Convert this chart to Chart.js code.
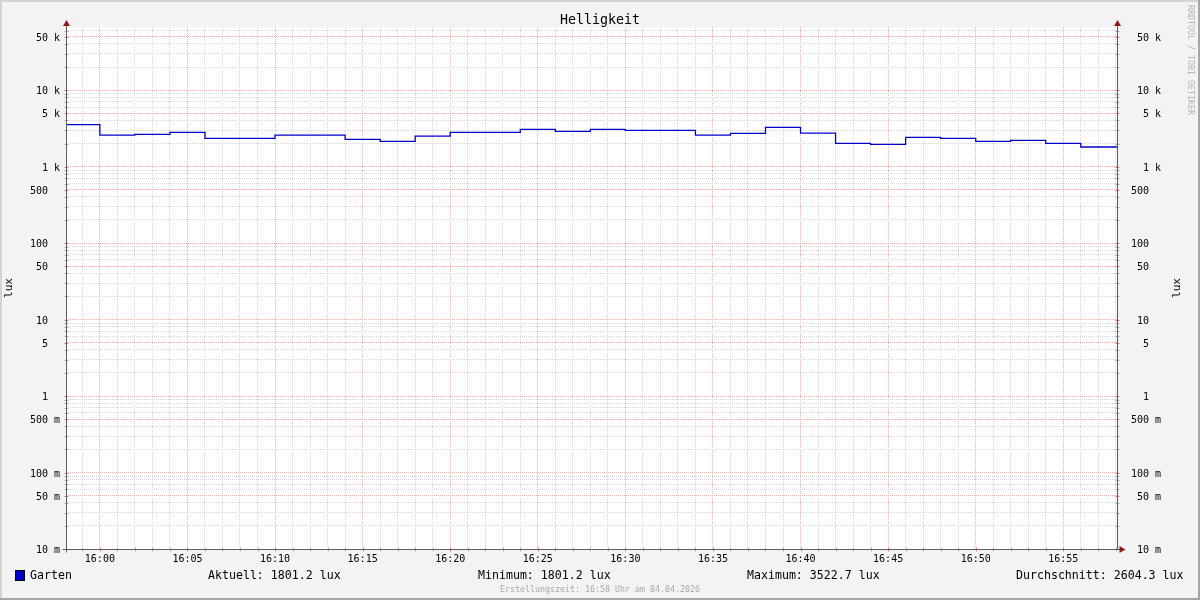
<!DOCTYPE html>
<html>
<head>
<meta charset="UTF-8" />
<script src="https://cdn.jsdelivr.net/npm/chart.js@4"></script>
<style>
  body { margin: 0; background: #f3f3f3; }
  #wrap { width: 1200px; height: 600px; position: relative; }
</style>
</head>
<body>
<div id="wrap"><canvas id="chart"></canvas></div>
<script>
// Zeitfenster der Grafik
const windowStart = '15:58:04';
const windowEnd = '16:58:04';

// Messwerte Garten (lux), jeweils gültig bis zum angegebenen Zeitpunkt
const stepEnds = [
  '16:00', '16:02', '16:04', '16:06', '16:08', '16:10', '16:12', '16:14', '16:16', '16:18',
  '16:20', '16:22', '16:24', '16:26', '16:28', '16:30', '16:32', '16:34', '16:36', '16:38',
  '16:40', '16:42', '16:44', '16:46', '16:48', '16:50', '16:52', '16:54', '16:56', '16:58:04',
];
const luxValues = [
  3522.7, 2581, 2636, 2800, 2337, 2337, 2581, 2581, 2268, 2136,
  2505, 2800, 2800, 3064, 2886, 3064, 2974, 2974, 2581, 2716,
  3253, 2741, 2011, 1951, 2409, 2337, 2136, 2201, 2011, 1801.2,
];

// Achsenbeschriftungen
const xTickLabels = ['16:00', '16:05', '16:10', '16:15', '16:20', '16:25', '16:30', '16:35', '16:40', '16:45', '16:50', '16:55'];
const yLabelValues = [0.01, 0.05, 0.1, 0.5, 1, 5, 10, 50, 100, 500, 1000, 5000, 10000, 50000];
const yLabelTexts = ['10 m', '50 m', '100 m', '500 m', '1  ', '5  ', '10  ', '50  ', '100  ', '500  ', '1 k', '5 k', '10 k', '50 k'];

// Legende
const legendName = 'Garten';
const legendItems = ['Aktuell: 1801.2 lux', 'Minimum: 1801.2 lux', 'Maximum: 3522.7 lux', 'Durchschnitt: 2604.3 lux'];
const legendX = [208, 478, 747, 1016];
const footerText = 'Erstellungszeit: 16:58 Uhr am 04.04.2026';

const yMin = 0.01;
const yMax = 66700;
const FONT = "'DejaVu Sans Mono', 'Liberation Mono', monospace";
const MINOR = '#d6d6d6';
const MAJOR = '#ebb0b0';

const toMin = (t) => {
  const [h, m, s] = t.split(':').map(Number);
  return (h - 16) * 60 + m + (s || 0) / 60;
};
const key = (v) => Number(v).toPrecision(3);
const yLabelMap = {};
yLabelValues.forEach((v, i) => { yLabelMap[key(v)] = yLabelTexts[i]; });
const xLabelMap = {};
xTickLabels.forEach(l => { xLabelMap[Math.round(toMin(l))] = l; });

function logTicks() {
  const out = [];
  for (let e = -2; e <= 4; e++) {
    for (let m = 1; m <= 9; m++) {
      const v = Number((m * Math.pow(10, e)).toPrecision(3));
      if (v >= yMin && v <= yMax) out.push({ value: v });
    }
  }
  return out;
}
function minuteTicks(scale) {
  const out = [];
  for (let m = Math.ceil(scale.min); m <= Math.floor(scale.max); m++) out.push({ value: m });
  return out;
}
const isMajorY = (v) => key(v) in yLabelMap;
const isMajorX = (v) => Math.round(v) % 5 === 0;

const points = [{ x: toMin(windowStart), y: luxValues[0] }]
  .concat(stepEnds.map((t, i) => ({ x: toMin(t), y: luxValues[i] })));

const rrdFrame = {
  id: 'rrdFrame',
  beforeDraw(chart) {
    const { ctx, chartArea: a } = chart;
    ctx.save();
    ctx.fillStyle = '#f3f3f3';
    ctx.fillRect(0, 0, 1200, 600);
    ctx.fillStyle = '#d4d4d4';
    ctx.fillRect(0, 0, 1200, 2);
    ctx.fillRect(0, 0, 2, 600);
    ctx.fillStyle = '#a6a6a6';
    ctx.fillRect(0, 598, 1200, 2);
    ctx.fillRect(1198, 0, 2, 600);
    ctx.fillStyle = '#ffffff';
    ctx.fillRect(a.left, a.top, a.right - a.left, a.bottom - a.top);
    ctx.restore();
  },
  afterDraw(chart) {
    const { ctx, chartArea: a, scales } = chart;
    const L = a.left + 0.5, R = a.right + 0.5, B = a.bottom + 0.5;
    ctx.save();

    // kleine Striche an den Achsen
    scales.y.ticks.forEach(t => {
      const py = Math.round(scales.y.getPixelForValue(t.value)) + 0.5;
      const major = isMajorY(t.value);
      ctx.strokeStyle = major ? '#d48080' : '#b0b0b0';
      ctx.lineWidth = 1;
      ctx.beginPath();
      ctx.moveTo(L - 2, py); ctx.lineTo(L + 2, py);
      ctx.moveTo(R - 2, py); ctx.lineTo(R + 2, py);
      ctx.stroke();
    });
    scales.x.ticks.forEach(t => {
      const px = Math.round(scales.x.getPixelForValue(t.value)) + 0.5;
      const major = isMajorX(t.value);
      ctx.strokeStyle = major ? '#d48080' : '#b0b0b0';
      ctx.beginPath();
      ctx.moveTo(px, B - 2); ctx.lineTo(px, B + 2);
      ctx.stroke();
    });

    // Beschriftung beider y-Achsen
    ctx.fillStyle = '#000';
    ctx.textBaseline = 'middle';
    ctx.textAlign = 'right';
    ctx.font = '10px ' + FONT;
    scales.y.ticks.forEach(t => {
      const txt = yLabelMap[key(t.value)];
      if (!txt) return;
      const py = scales.y.getPixelForValue(t.value) + 1.5;
      ctx.fillText(txt, a.left - 6, py);
      ctx.fillText(txt, 1161, py);
    });

    // Achsen
    ctx.strokeStyle = '#5c5c5c';
    ctx.lineWidth = 1;
    ctx.beginPath();
    ctx.moveTo(L, B + 3); ctx.lineTo(L, a.top - 3);
    ctx.moveTo(R, B); ctx.lineTo(R, a.top - 3);
    ctx.moveTo(L - 4, B); ctx.lineTo(R + 3, B);
    ctx.stroke();

    // Pfeile
    ctx.fillStyle = '#8b1a1a';
    [L, R].forEach(x => {
      ctx.beginPath();
      ctx.moveTo(x, a.top - 7); ctx.lineTo(x - 3.5, a.top - 1); ctx.lineTo(x + 3.5, a.top - 1);
      ctx.closePath(); ctx.fill();
    });
    ctx.beginPath();
    ctx.moveTo(R + 8, B); ctx.lineTo(R + 2, B - 3.5); ctx.lineTo(R + 2, B + 3.5);
    ctx.closePath(); ctx.fill();

    // Titel
    ctx.fillStyle = '#000';
    ctx.textAlign = 'center';
    ctx.font = '13.3px ' + FONT;
    ctx.fillText('Helligkeit', 600, 20.5);

    // Einheiten
    ctx.font = '11px ' + FONT;
    [9.5, 1177].forEach(x => {
      ctx.save();
      ctx.translate(x, (a.top + a.bottom) / 2);
      ctx.rotate(-Math.PI / 2);
      ctx.fillText('lux', 0, 0);
      ctx.restore();
    });

    // Wasserzeichen
    ctx.save();
    ctx.fillStyle = '#b4b4b4';
    ctx.font = '8.3px ' + FONT;
    ctx.translate(1190, 5);
    ctx.rotate(Math.PI / 2);
    ctx.textAlign = 'left';
    ctx.fillText('RRDTOOL / TOBI OETIKER', 0, 0);
    ctx.restore();

    // Legende
    ctx.fillStyle = '#0000cc';
    ctx.fillRect(15, 570, 9, 10);
    ctx.strokeStyle = '#000';
    ctx.strokeRect(15.5, 570.5, 9, 10);
    ctx.fillStyle = '#000';
    ctx.textAlign = 'left';
    ctx.font = '11.6px ' + FONT;
    ctx.fillText(legendName, 30, 575.5);
    legendItems.forEach((txt, i) => ctx.fillText(txt, legendX[i], 575.5));

    ctx.fillStyle = '#a8a8a8';
    ctx.textAlign = 'center';
    ctx.font = '8.3px ' + FONT;
    ctx.fillText(footerText, 600, 589.5);
    ctx.restore();
  },
};

new Chart(document.getElementById('chart'), {
  type: 'line',
  data: {
    datasets: [{
      label: legendName,
      data: points,
      borderColor: '#0000cc',
      borderWidth: 1.3,
      stepped: 'after',
      pointRadius: 0,
      fill: false,
    }],
  },
  options: {
    responsive: true,
    maintainAspectRatio: false,
    animation: false,
    layout: { padding: { top: 27, left: 0, right: 83, bottom: 0 } },
    plugins: { legend: { display: false }, tooltip: { enabled: false }, title: { display: false } },
    scales: {
      x: {
        type: 'linear',
        min: toMin(windowStart),
        max: toMin(windowEnd),
        afterBuildTicks: (scale) => { scale.ticks = minuteTicks(scale); },
        afterFit: (scale) => { scale.height = 51; },
        grid: {
          color: (c) => (c.tick && isMajorX(c.tick.value) ? MAJOR : MINOR),
          lineWidth: 1,
          drawTicks: false,
        },
        border: { display: false, dash: [1, 1] },
        ticks: {
          autoSkip: false,
          maxRotation: 0,
          minRotation: 0,
          padding: 4,
          color: '#000',
          font: { family: FONT, size: 10 },
          callback: (v) => xLabelMap[Math.round(v)] && Math.abs(v - Math.round(v)) < 1e-6 ? xLabelMap[Math.round(v)] : '',
        },
      },
      y: {
        type: 'logarithmic',
        position: 'left',
        min: yMin,
        max: yMax,
        afterBuildTicks: (scale) => { scale.ticks = logTicks(); },
        afterFit: (scale) => { scale.width = 66; },
        grid: {
          color: (c) => (c.tick && isMajorY(c.tick.value) ? MAJOR : MINOR),
          lineWidth: 1,
          drawTicks: false,
        },
        border: { display: false, dash: [1, 1] },
        ticks: { display: false },
      },
    },
  },
  plugins: [rrdFrame],
});
</script>
</body>
</html>
